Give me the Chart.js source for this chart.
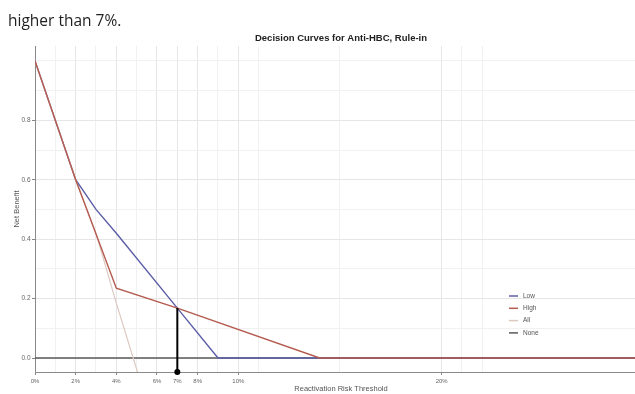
<!DOCTYPE html>
<html>
<head>
<meta charset="utf-8">
<script src="https://cdn.jsdelivr.net/npm/chart.js@4/dist/chart.umd.min.js"></script>
<style>
  html, body { margin: 0; padding: 0; background: #fff; }
  #wrap { position: relative; width: 635px; height: 394px; overflow: hidden; }
  #lead { position: absolute; left: 8px; top: 10px; font-family: "Open Sans", sans-serif; font-size: 15.5px; color: #1f1f1f; line-height: 20px; }
  canvas { position: absolute; left: 0; top: 0; }
</style>
</head>
<body>
<div id="wrap">
  <canvas id="c" width="647" height="394"></canvas>
  <div id="lead">higher than 7%.</div>
</div>
<script>
// Decision curve values (threshold in %, net benefit)
const lowX  = [0, 2, 3, 4, 7, 9, 30];
const lowY  = [1.0, 0.6, 0.5, 0.42, 0.168, 0, 0];
const highX = [0, 2, 4, 7, 14, 30];
const highY = [1.0, 0.6, 0.235, 0.168, 0, 0];
const allX  = [0, 2, 3, 4, 4.83, 5.1];
const allY  = [1.0, 0.6, 0.42, 0.185, 0, -0.06];
const noneX = [0, 30];
const noneY = [0, 0];
// Marker for the 7% threshold
const cutX  = [7, 7];
const cutY  = [0.168, -0.047];

// Axis ticks
const xTickLabels = [0, 2, 4, 6, 7, 8, 10, 20];
const xGridLines  = [0, 1, 2, 3, 4, 5, 6, 7, 8, 9, 10, 11, 15, 20, 21, 22];
const yTickLabels = [0, 0.2, 0.4, 0.6, 0.8];
const yGridLines  = [0, 0.1, 0.2, 0.3, 0.4, 0.5, 0.6, 0.7, 0.8, 0.9, 1.0];

const pts = (xs, ys) => xs.map((x, i) => ({ x: x, y: ys[i] }));
const near = (a, b) => Math.abs(a - b) < 1e-9;
const isXLabel = v => xTickLabels.some(t => near(t, v));
const isYLabel = v => yTickLabels.some(t => near(t, v));

const legendNames = ['Low', 'High', 'All', 'None'];
const FONT = '"Liberation Sans", Arial, sans-serif';

// Small legend placed inside the plot panel
const panelLegend = {
  id: 'panelLegend',
  afterDatasetsDraw(chart) {
    const ctx = chart.ctx;
    const x0 = 509, y0 = 296, step = 12.3;
    ctx.save();
    ctx.font = '6.5px ' + FONT;
    ctx.textBaseline = 'middle';
    ctx.fillStyle = '#555';
    let row = 0;
    legendNames.forEach(name => {
      const ds = chart.data.datasets.find(d => d.label === name);
      if (!ds) return;
      const y = y0 + row * step;
      ctx.strokeStyle = ds.borderColor;
      ctx.lineWidth = 1.5;
      ctx.beginPath();
      ctx.moveTo(x0, y);
      ctx.lineTo(x0 + 9, y);
      ctx.stroke();
      ctx.fillText(name, x0 + 14, y);
      row++;
    });
    ctx.restore();
  }
};

const tickFont = { family: FONT, size: 6 };

new Chart(document.getElementById('c'), {
  type: 'line',
  data: {
    datasets: [
      { label: 'cut', data: pts(cutX, cutY), borderColor: '#000', borderWidth: 2,
        pointRadius: [0, 3], pointBackgroundColor: '#000', pointBorderWidth: 0,
        clip: false, order: 0 },
      { label: 'High', data: pts(highX, highY), borderColor: '#b45a4e', borderWidth: 1.4,
        pointRadius: 0, order: 1 },
      { label: 'Low', data: pts(lowX, lowY), borderColor: '#5b5ea6', borderWidth: 1.4,
        pointRadius: 0, order: 3 },
      { label: 'All', data: pts(allX, allY), borderColor: '#dccac2', borderWidth: 1.2,
        pointRadius: 0, order: 2 },
      { label: 'None', data: pts(noneX, noneY), borderColor: '#595959', borderWidth: 1.4,
        pointRadius: 0, order: 4 }
    ]
  },
  options: {
    responsive: false,
    animation: false,
    events: [],
    layout: { padding: 0, autoPadding: false },
    elements: { line: { tension: 0 } },
    plugins: {
      legend: { display: false },
      tooltip: { enabled: false },
      title: {
        display: true,
        fullSize: false,
        text: 'Decision Curves for Anti-HBC, Rule-in',
        color: '#222',
        font: { family: FONT, size: 9.5, weight: 'bold' },
        padding: { top: 32.5, bottom: 2.1 }
      }
    },
    scales: {
      x: {
        type: 'linear',
        min: 0,
        max: 30.1,
        afterFit: s => { s.height = 22; },
        afterBuildTicks: s => { s.ticks = xGridLines.map(v => ({ value: v })); },
        ticks: {
          autoSkip: false,
          maxRotation: 0,
          padding: 2.5,
          color: '#666',
          font: tickFont,
          callback: v => isXLabel(v) ? v + '%' : ''
        },
        grid: {
          color: c => (c.tick && isXLabel(c.tick.value)) ? '#e6e6e6' : '#f1f1f1',
          tickColor: c => (c.tick && isXLabel(c.tick.value)) ? '#888' : 'rgba(0,0,0,0)',
          tickLength: 3,
          lineWidth: 1
        },
        border: { display: true, color: '#8a8a8a', width: 1 },
        title: {
          display: true,
          text: 'Reactivation Risk Threshold',
          color: '#555',
          font: { family: FONT, size: 7.5 },
          padding: { top: 0, bottom: 1 }
        }
      },
      y: {
        type: 'linear',
        min: -0.047,
        max: 1.05,
        afterFit: s => { s.width = 35; },
        afterBuildTicks: s => { s.ticks = yGridLines.map(v => ({ value: v })); },
        ticks: {
          autoSkip: false,
          padding: 1.5,
          color: '#666',
          font: { family: FONT, size: 6.5 },
          callback: v => isYLabel(v) ? v.toFixed(1) : ''
        },
        grid: {
          color: c => (c.tick && isYLabel(c.tick.value)) ? '#e6e6e6' : '#f1f1f1',
          tickColor: c => (c.tick && isYLabel(c.tick.value)) ? '#888' : 'rgba(0,0,0,0)',
          tickLength: 3,
          lineWidth: 1
        },
        border: { display: true, color: '#8a8a8a', width: 1 },
        title: {
          display: true,
          text: 'Net Benefit',
          color: '#555',
          font: { family: FONT, size: 7.5 },
          padding: { top: 12.5, bottom: 0 }
        }
      }
    }
  },
  plugins: [panelLegend]
});
</script>
</body>
</html>
